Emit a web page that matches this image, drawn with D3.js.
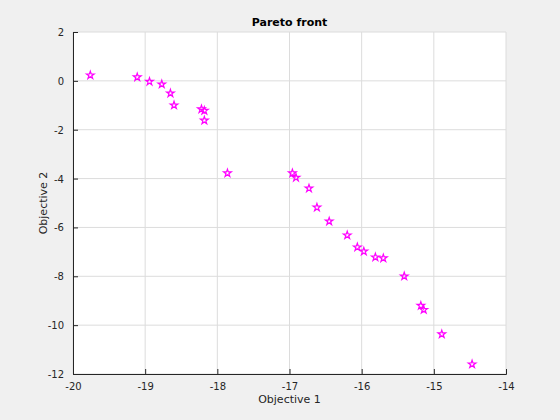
<!DOCTYPE html>
<html>
<head>
<meta charset="utf-8">
<script src="https://cdn.jsdelivr.net/npm/d3@7"></script>
<style>
  html, body { margin: 0; padding: 0; background: #f0f0f0; }
  svg { display: block; font-family: "DejaVu Sans", sans-serif; }
</style>
</head>
<body>
<div id="chart"></div>
<script>
// Pareto front points
const obj1 = [-19.76, -19.11, -18.94, -18.77, -18.65, -18.60, -18.22, -18.18, -18.18,
  -17.86, -16.96, -16.91, -16.73, -16.62, -16.45, -16.20, -16.06, -15.97, -15.81,
  -15.70, -15.41, -15.18, -15.14, -14.89, -14.47];
const obj2 = [0.23, 0.15, -0.03, -0.14, -0.51, -1.00, -1.16, -1.22, -1.62,
  -3.78, -3.78, -3.96, -4.40, -5.18, -5.75, -6.32, -6.81, -6.98, -7.22,
  -7.26, -8.00, -9.20, -9.37, -10.37, -11.60];
const xTicks = [-20, -19, -18, -17, -16, -15, -14];
const yTicks = [-12, -10, -8, -6, -4, -2, 0, 2];

const W = 560, H = 420;
const margin = { top: 32, right: 54, bottom: 46, left: 73 };
const width = W - margin.left - margin.right;
const height = H - margin.top - margin.bottom;

const svg = d3.select('#chart').append('svg')
  .attr('width', W)
  .attr('height', H);

const g = svg.append('g')
  .attr('transform', `translate(${margin.left},${margin.top})`);

const x = d3.scaleLinear().domain([-20, -14]).range([0, width]);
const y = d3.scaleLinear().domain([-12, 2]).range([height, 0]);

g.append('rect')
  .attr('width', width)
  .attr('height', height)
  .attr('fill', '#fff');

// grid
g.selectAll('.vgrid').data(xTicks)
  .join('line')
  .attr('x1', d => x(d)).attr('x2', d => x(d))
  .attr('y1', 0).attr('y2', height)
  .attr('stroke', '#dcdcdc').attr('stroke-width', 1);

g.selectAll('.hgrid').data(yTicks)
  .join('line')
  .attr('y1', d => y(d)).attr('y2', d => y(d))
  .attr('x1', 0).attr('x2', width)
  .attr('stroke', '#dcdcdc').attr('stroke-width', 1);

// axes, ticks pointing in, plain hyphen minus like the original
const fmt = d => String(d);
const xAxis = g.append('g')
  .attr('transform', `translate(0,${height})`)
  .call(d3.axisBottom(x).tickValues(xTicks).tickSize(-5).tickPadding(9).tickFormat(fmt));

const yAxis = g.append('g')
  .call(d3.axisLeft(y).tickValues(yTicks).tickSize(-5).tickPadding(9).tickFormat(fmt));

[xAxis, yAxis].forEach(a => {
  a.select('.domain').attr('stroke', '#262626');
  a.selectAll('.tick line').attr('stroke', '#262626');
  a.selectAll('.tick text')
    .attr('fill', '#262626')
    .attr('font-size', '10px')
    .attr('font-family', '"DejaVu Sans", sans-serif');
});
yAxis.selectAll('.tick text').attr('dy', '0.35em');

// points
const pts = obj1.map((v, i) => ({ o1: v, o2: obj2[i] }));
g.selectAll('.pt').data(pts)
  .join('path')
  .attr('transform', d => `translate(${x(d.o1)},${y(d.o2)})`)
  .attr('d', d3.symbol(d3.symbolStar, 18))
  .attr('fill', 'none')
  .attr('stroke', '#ff00ff')
  .attr('stroke-width', 1.2);

// labels
svg.append('text')
  .attr('x', margin.left + width / 2)
  .attr('y', 26)
  .attr('text-anchor', 'middle')
  .attr('font-size', '11px')
  .attr('font-weight', 'bold')
  .attr('fill', '#000')
  .text('Pareto front');

svg.append('text')
  .attr('x', margin.left + width / 2)
  .attr('y', 403)
  .attr('text-anchor', 'middle')
  .attr('font-size', '11px')
  .attr('fill', '#262626')
  .text('Objective 1');

svg.append('text')
  .attr('transform', `translate(47,${margin.top + height / 2}) rotate(-90)`)
  .attr('text-anchor', 'middle')
  .attr('font-size', '11px')
  .attr('fill', '#262626')
  .text('Objective 2');
</script>
</body>
</html>
